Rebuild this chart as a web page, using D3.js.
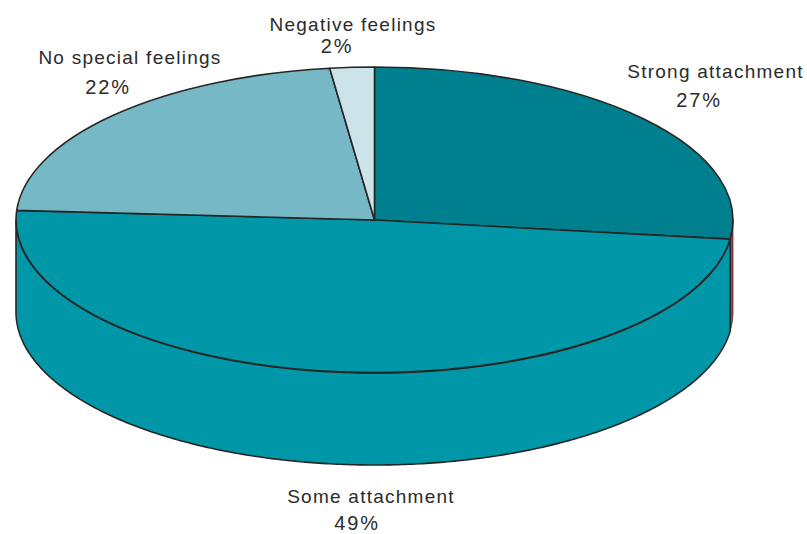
<!DOCTYPE html>
<html>
<head>
<meta charset="utf-8">
<style>
html, body { margin: 0; padding: 0; background: #fff; }
svg { display: block; }
text { font-family: "Liberation Sans", sans-serif; fill: #2b2b2b; text-anchor: middle; }
.name { font-size: 19px; letter-spacing: 1.25px; }
.pct { font-size: 20px; letter-spacing: 1.8px; }
</style>
</head>
<body>
<div id="chart"></div>
<script src="https://cdnjs.cloudflare.com/ajax/libs/d3/7.8.5/d3.min.js"></script>
<script>
const categories = ["Strong attachment", "Some attachment", "No special feelings", "Negative feelings"];
const values = [27, 49, 22, 2];
const topColors = ["#00808f", "#0097a9", "#76b8c6", "#cce3ea"];
const wallColors = ["#b23a48", "#0097a9", "#76b8c6", "#cce3ea"];
const wallStrokes = [0.7, 1.6, 1.6, 1.6];

const width = 807, height = 534;
const cx = 374.5, cy = 220, rx = 358.5, ry = 153, depth = 92;

const svg = d3.select("#chart").append("svg")
  .attr("width", width)
  .attr("height", height);

const slices = d3.pie().sort(null)(values);

const xScale = d3.scaleLinear().domain([-1, 1]).range([cx - rx, cx + rx]);
const yScale = d3.scaleLinear().domain([-1, 1]).range([cy - ry, cy + ry]);

// Outer wall of the disc: only the part facing the viewer (90deg to 270deg)
function wallPath(s) {
  const a0 = Math.max(s.startAngle, Math.PI / 2);
  const a1 = Math.min(s.endAngle, Math.PI * 3 / 2);
  if (a1 <= a0) return null;
  const angles = d3.range(a0, a1, 0.01).concat([a1]);
  const top = angles.map(a => [xScale(Math.sin(a)), yScale(-Math.cos(a))]);
  const bottom = top.map(p => [p[0], p[1] + depth]).reverse();
  return d3.line()(top.concat(bottom)) + "Z";
}

svg.append("g").selectAll("path")
  .data(slices)
  .enter().append("path")
  .attr("d", wallPath)
  .attr("fill", (d, i) => wallColors[i])
  .attr("stroke", "#262626")
  .attr("stroke-width", (d, i) => wallStrokes[i])
  .attr("stroke-linejoin", "round");

// Top face: a unit pie squashed into an ellipse
const arc = d3.arc().innerRadius(0).outerRadius(1);

svg.append("g")
  .attr("transform", `translate(${cx},${cy}) scale(${rx},${ry})`)
  .selectAll("path")
  .data(slices)
  .enter().append("path")
  .attr("d", arc)
  .attr("fill", (d, i) => topColors[i])
  .attr("stroke", "#262626")
  .attr("stroke-width", 1.6)
  .attr("stroke-linejoin", "round")
  .attr("vector-effect", "non-scaling-stroke");

// Labels
const nameX = [715.5, 371, 130, 353];
const nameY = [78, 503, 64, 31];
const pctX = [699, 357, 108, 337];
const pctY = [107, 530, 94, 53];

const labels = svg.append("g");
labels.selectAll(".name")
  .data(categories)
  .enter().append("text")
  .attr("class", "name")
  .attr("x", (d, i) => nameX[i])
  .attr("y", (d, i) => nameY[i])
  .text(d => d);
labels.selectAll(".pct")
  .data(values)
  .enter().append("text")
  .attr("class", "pct")
  .attr("x", (d, i) => pctX[i])
  .attr("y", (d, i) => pctY[i])
  .text(d => d + "%");
</script>
</body>
</html>
